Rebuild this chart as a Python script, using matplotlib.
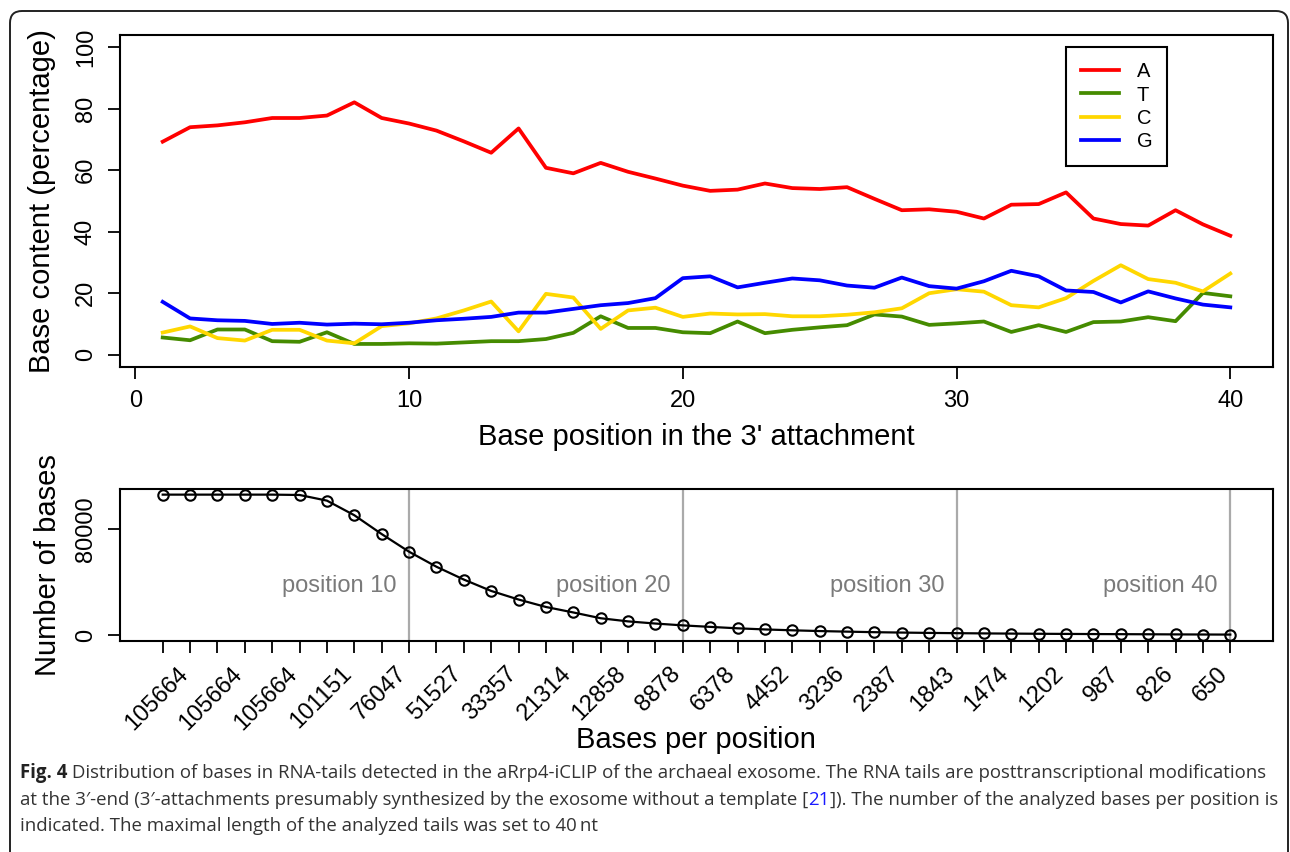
import numpy as np
import matplotlib
matplotlib.use("Agg")
import matplotlib.pyplot as plt
import matplotlib.transforms as mtransforms
from matplotlib.patches import FancyBboxPatch
from matplotlib.offsetbox import TextArea, HPacker, AnchoredOffsetbox

plt.rcParams['font.family'] = ['Liberation Sans', 'DejaVu Sans']

# --- data: base composition of the 3' tails, per position ---
positions = np.arange(1, 41)

pct_A = [69.3, 74.0, 74.6, 75.6, 77.0, 77.0, 77.8, 82.1, 77.0, 75.2,
         72.9, 69.4, 65.7, 73.6, 60.8, 59.0, 62.4, 59.5, 57.3, 55.0,
         53.3, 53.7, 55.7, 54.2, 53.9, 54.5, 50.7, 47.0, 47.3, 46.5,
         44.3, 48.8, 49.0, 52.8, 44.3, 42.5, 42.0, 47.0, 42.4, 38.7]
pct_T = [5.6, 4.7, 8.2, 8.2, 4.4, 4.2, 7.3, 3.5, 3.5, 3.7,
         3.6, 4.0, 4.4, 4.4, 5.1, 7.1, 12.5, 8.7, 8.7, 7.3,
         7.0, 10.8, 7.0, 8.1, 8.9, 9.6, 13.1, 12.4, 9.7, 10.2,
         10.8, 7.4, 9.6, 7.4, 10.6, 10.8, 12.2, 10.9, 20.1, 19.0]
pct_C = [7.2, 9.2, 5.4, 4.6, 8.1, 8.1, 4.6, 3.7, 9.3, 10.2,
         11.8, 14.4, 17.3, 7.6, 19.8, 18.6, 8.4, 14.4, 15.3, 12.3,
         13.4, 13.1, 13.2, 12.5, 12.5, 13.0, 13.8, 15.1, 20.0, 21.3,
         20.5, 16.1, 15.4, 18.4, 24.0, 29.1, 24.6, 23.4, 20.6, 26.4]
pct_G = [17.2, 11.8, 11.2, 11.0, 10.0, 10.4, 9.8, 10.1, 9.9, 10.4,
         11.2, 11.7, 12.3, 13.7, 13.7, 14.9, 16.1, 16.8, 18.4, 24.9,
         25.5, 21.9, 23.4, 24.8, 24.2, 22.5, 21.8, 25.1, 22.3, 21.5,
         23.9, 27.3, 25.5, 20.9, 20.4, 17.0, 20.6, 18.3, 16.3, 15.4]

bases_per_position = [105664, 105664, 105664, 105664, 105664, 105400, 101151, 90200,
                      76047, 62800, 51527, 41900, 33357, 26900, 21314, 17200,
                      12858, 10500, 8878, 7500, 6378, 5300, 4452, 3800,
                      3236, 2800, 2387, 2100, 1843, 1650, 1474, 1330,
                      1202, 1090, 987, 900, 826, 730, 650, 590]

series_names = ['A', 'T', 'C', 'G']
series_colors = ['#ff0000', '#458b00', '#ffd700', '#0000ff']
marked_positions = [10, 20, 30, 40]

fig = plt.figure(figsize=(12.9, 8.52), dpi=100)

# --- outer rounded frame (open at the bottom edge of the image) ---
frame = FancyBboxPatch((10, -30), 1278, 871, boxstyle="round,pad=0,rounding_size=12",
                       transform=mtransforms.IdentityTransform(),
                       facecolor='none', edgecolor='#222222', lw=1.4)
fig.add_artist(frame)

# --- top panel: base content per position ---
ax1 = fig.add_axes([120 / 1290, 485 / 852, 1153 / 1290, 332 / 852])
for vals, name, col in zip([pct_A, pct_T, pct_C, pct_G], series_names, series_colors):
    ax1.plot(positions, vals, color=col, lw=2.7, label=name, solid_joinstyle='round')
ax1.set_xlim(-0.56, 41.56)
ax1.set_ylim(-4, 104)
ax1.set_xticks([0, 10, 20, 30, 40])
ax1.set_yticks([0, 20, 40, 60, 80, 100])
ax1.tick_params(length=8.6, width=1.3, labelsize=17, direction='out')
ax1.tick_params(axis='x', pad=8)
ax1.tick_params(axis='y', pad=8)
plt.setp(ax1.get_yticklabels(), rotation=90, va='center')
for sp in ax1.spines.values():
    sp.set_linewidth(1.5)

leg = ax1.legend(loc='upper left', bbox_to_anchor=(0.8205, 0.9639), borderaxespad=0,
                 fontsize=14.5, handlelength=1.9, handletextpad=0.85, labelspacing=0.22,
                 borderpad=0.75, fancybox=False, edgecolor='black', framealpha=1)
leg.get_frame().set_linewidth(1.5)

fig.text(42 / 1290, 1 - 201 / 852, 'Base content (percentage)', rotation=90,
         ha='center', va='center', fontsize=21)
fig.text(696 / 1290, 1 - 437 / 852, "Base position in the 3' attachment",
         ha='center', va='center', fontsize=21)

# --- bottom panel: number of analysed bases per position ---
ax2 = fig.add_axes([120 / 1290, 211 / 852, 1153 / 1290, 152 / 852])
for p in marked_positions:
    ax2.axvline(p, color='#aaaaaa', lw=1.6, zorder=0)
    ax2.text(p - 0.45, 37400, 'position %d' % p, ha='right', va='center',
             color='#7a7a7a', fontsize=17)
ax2.plot(positions, bases_per_position, color='black', lw=1.6, marker='o',
         markersize=7.5, markerfacecolor='none', markeredgewidth=1.5)
ax2.set_xlim(-0.56, 41.56)
ax2.set_ylim(-4226.56, 109890.56)
ax2.set_yticks([0, 80000])
ax2.set_xticks(positions)
tick_labels = [str(v) if p % 2 == 1 else '' for p, v in zip(positions, bases_per_position)]
ax2.set_xticklabels(tick_labels)
ax2.tick_params(length=8.6, width=1.3, labelsize=17, direction='out')
ax2.tick_params(axis='y', pad=8)
ax2.tick_params(axis='x', pad=7)
plt.setp(ax2.get_yticklabels(), rotation=90, va='center')
shift = mtransforms.ScaledTranslation(0.14, 0, fig.dpi_scale_trans)
for lab in ax2.get_xticklabels():
    lab.set_rotation(45)
    lab.set_ha('right')
    lab.set_va('top')
    lab.set_rotation_mode('anchor')
    lab.set_transform(lab.get_transform() + shift)
for sp in ax2.spines.values():
    sp.set_linewidth(1.5)

fig.text(48 / 1290, 1 - 565 / 852, 'Number of bases', rotation=90,
         ha='center', va='center', fontsize=21)
fig.text(696 / 1290, 1 - 740 / 852, 'Bases per position',
         ha='center', va='center', fontsize=21)

# --- caption ---
cap_font = dict(fontsize=13.4, family=['Open Sans', 'DejaVu Sans'])
caption_lines = [
    [('Fig. 4', '#222222', 'bold'),
     (' Distribution of bases in RNA-tails detected in the aRrp4-iCLIP of the archaeal exosome. '
      'The RNA tails are posttranscriptional modifications', '#333333', 'normal')],
    [("at the 3\u2032-end (3\u2032-attachments presumably synthesized by the exosome without a template [",
      '#333333', 'normal'),
     ('21', '#1a1aff', 'normal'),
     (']). The number of the analyzed bases per position is', '#333333', 'normal')],
    [('indicated. The maximal length of the analyzed tails was set to 40\u2009nt', '#333333', 'normal')],
]
caption_y = [773, 800, 826]
for parts, y in zip(caption_lines, caption_y):
    boxes = [TextArea(t, textprops=dict(color=c, fontweight=w, **cap_font)) for t, c, w in parts]
    pack = HPacker(children=boxes, align='baseline', pad=0, sep=0)
    ab = AnchoredOffsetbox(loc='center left', child=pack, pad=0, borderpad=0, frameon=False,
                           bbox_to_anchor=(20 / 1290, 1 - y / 852),
                           bbox_transform=fig.transFigure)
    fig.add_artist(ab)

fig.savefig('out.png', dpi=100)
